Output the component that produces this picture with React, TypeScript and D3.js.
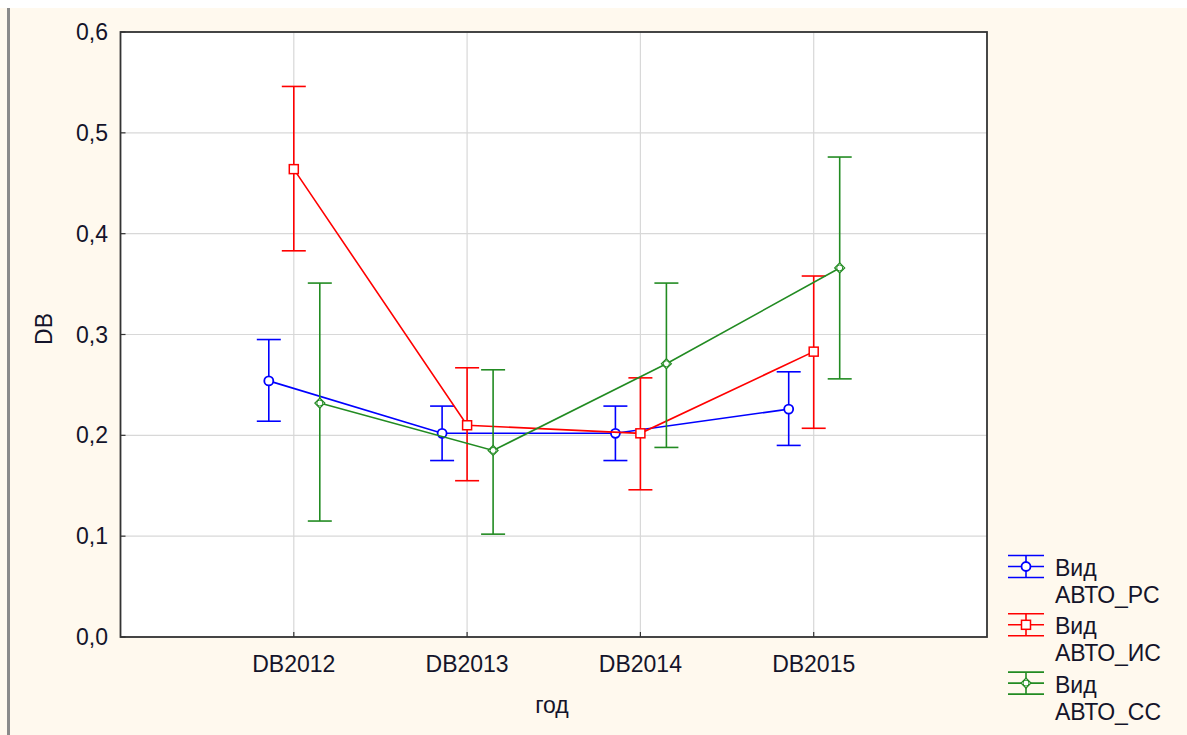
import React from "react";
import * as d3 from "d3";

const categories = ["DB2012", "DB2013", "DB2014", "DB2015"];
const yTicks = [0, 0.1, 0.2, 0.3, 0.4, 0.5, 0.6];

const rsMean = [0.254, 0.202, 0.202, 0.226];
const rsLow = [0.214, 0.175, 0.175, 0.190];
const rsHigh = [0.295, 0.229, 0.229, 0.263];

const isMean = [0.464, 0.210, 0.202, 0.283];
const isLow = [0.383, 0.155, 0.146, 0.207];
const isHigh = [0.546, 0.267, 0.257, 0.358];

const ssMean = [0.232, 0.185, 0.271, 0.366];
const ssLow = [0.115, 0.102, 0.188, 0.256];
const ssHigh = [0.351, 0.265, 0.351, 0.476];

const seriesNames = ["Вид\nАВТО_РС", "Вид\nАВТО_ИС", "Вид\nАВТО_СС"];

type Series = { name: string; mean: number[]; low: number[]; high: number[]; color: string; marker: string; offset: number };

const series: Series[] = [
  { name: seriesNames[0], mean: rsMean, low: rsLow, high: rsHigh, color: "#0000ff", marker: "circle", offset: -25 },
  { name: seriesNames[1], mean: isMean, low: isLow, high: isHigh, color: "#ff0000", marker: "square", offset: 0 },
  { name: seriesNames[2], mean: ssMean, low: ssLow, high: ssHigh, color: "#228b22", marker: "diamond", offset: 26 },
];

const FONT = "'Liberation Sans', Arial, sans-serif";
const FS = 23;
const TXT = "#14142a";

function Marker({ type, x, y, color }: { type: string; x: number; y: number; color: string }) {
  if (type === "circle") return <circle cx={x} cy={y} r={4.5} fill="white" stroke={color} strokeWidth={1.8} />;
  if (type === "square") return <rect x={x - 4.5} y={y - 4.5} width={9} height={9} fill="white" stroke={color} strokeWidth={1.5} />;
  return (
    <g>
      <path d={`M${x - 5},${y} L${x},${y - 5} L${x + 5},${y} L${x},${y + 5} Z`} fill="white" stroke={color} strokeWidth={1.2} />
      <circle cx={x} cy={y} r={3} fill="none" stroke={color} strokeWidth={1} />
    </g>
  );
}

export default function App() {
  const W = 1187, H = 735;
  const left = 120.5, right = 987, top = 32, bottom = 637;
  const x = d3.scaleLinear().domain([-1, categories.length]).range([left, right]);
  const y = d3.scaleLinear().domain([0, 0.6]).range([bottom, top]);
  const line = d3.line<[number, number]>().x(d => d[0]).y(d => d[1]);
  const fmt = (v: number) => v.toFixed(1).replace(".", ",");

  return (
    <svg width={W} height={H} style={{ position: "absolute", left: 0, top: 0 }}>
      <rect x={0} y={0} width={W} height={H} fill="#ffffff" />
      <rect x={0} y={8} width={W} height={H - 8} fill="#fff9ee" />
      <rect x={7} y={8} width={3} height={H - 8} fill="#8a8a8a" />
      <rect x={left} y={top} width={right - left} height={bottom - top} fill="#ffffff" />
      {yTicks.map(t => (
        <line key={"gy" + t} x1={left} x2={right} y1={y(t)} y2={y(t)} stroke="#d8d8d8" strokeWidth={1.2} />
      ))}
      {categories.map((c, i) => (
        <line key={"gx" + c} x1={x(i)} x2={x(i)} y1={top} y2={bottom} stroke="#d8d8d8" strokeWidth={1.2} />
      ))}
      {series.map(s => {
        const pts = s.mean.map((m, i) => [x(i) + s.offset, y(m)] as [number, number]);
        return (
          <g key={s.name}>
            <path d={line(pts) || ""} fill="none" stroke={s.color} strokeWidth={1.6} />
            {s.mean.map((m, i) => {
              const cx = x(i) + s.offset;
              return (
                <g key={i} stroke={s.color} strokeWidth={1.6}>
                  <line x1={cx} x2={cx} y1={y(s.high[i])} y2={y(s.low[i])} />
                  <line x1={cx - 12} x2={cx + 12} y1={y(s.high[i])} y2={y(s.high[i])} />
                  <line x1={cx - 12} x2={cx + 12} y1={y(s.low[i])} y2={y(s.low[i])} />
                </g>
              );
            })}
            {s.mean.map((m, i) => (
              <Marker key={"m" + i} type={s.marker} x={x(i) + s.offset} y={y(m)} color={s.color} />
            ))}
          </g>
        );
      })}
      <rect x={left} y={top} width={right - left} height={bottom - top} fill="none" stroke="#333" strokeWidth={1.8} />
      {yTicks.map(t => (
        <g key={"yt" + t}>
          <line x1={left} x2={left + 5} y1={y(t)} y2={y(t)} stroke="#333" strokeWidth={1.2} />
          <text x={108} y={y(t) + 8} textAnchor="end" fontFamily={FONT} fontSize={FS} fill={TXT}>{fmt(t)}</text>
        </g>
      ))}
      {categories.map((c, i) => (
        <g key={"xt" + c}>
          <line x1={x(i)} x2={x(i)} y1={bottom} y2={bottom - 5} stroke="#333" strokeWidth={1.2} />
          <text x={x(i)} y={672} textAnchor="middle" fontFamily={FONT} fontSize={FS} fill={TXT}>{c}</text>
        </g>
      ))}
      <text x={552} y={713} textAnchor="middle" fontFamily={FONT} fontSize={FS} fill={TXT}>год</text>
      <text transform={`translate(52,329) rotate(-90)`} textAnchor="middle" fontFamily={FONT} fontSize={FS} fill={TXT}>DB</text>
      {series.map((s, k) => {
        const cy = 566.5 + k * 58.3;
        const lx = 1026;
        const lines = s.name.split("\n");
        return (
          <g key={"lg" + k}>
            <g stroke={s.color} strokeWidth={1.6}>
              <line x1={lx - 18} x2={lx + 18} y1={cy - 11} y2={cy - 11} />
              <line x1={lx - 18} x2={lx + 18} y1={cy} y2={cy} />
              <line x1={lx - 18} x2={lx + 18} y1={cy + 11} y2={cy + 11} />
              <line x1={lx} x2={lx} y1={cy - 11} y2={cy + 11} />
            </g>
            <Marker type={s.marker} x={lx} y={cy} color={s.color} />
            <text x={1055} y={cy + 9.5} fontFamily={FONT} fontSize={FS} fill={TXT}>{lines[0]}</text>
            <text x={1055} y={cy + 36.5} fontFamily={FONT} fontSize={FS} fill={TXT}>{lines[1]}</text>
          </g>
        );
      })}
    </svg>
  );
}
